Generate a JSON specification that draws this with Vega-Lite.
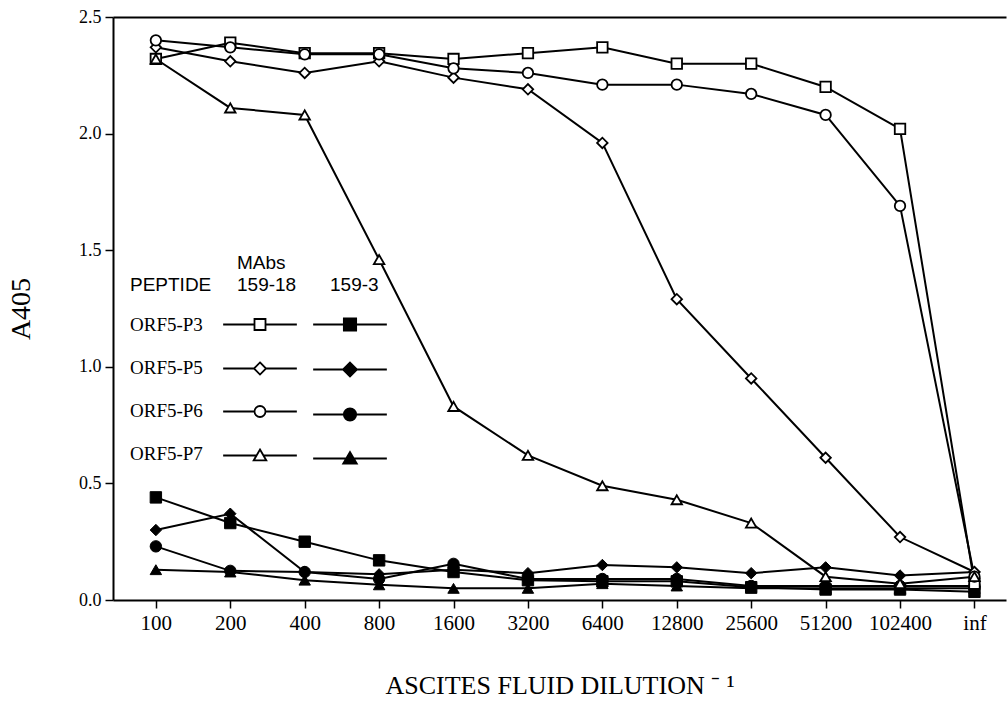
{
  "$schema": "https://vega.github.io/schema/vega-lite/v6.json",
  "width": 893,
  "height": 583,
  "autosize": "none",
  "padding": {"left": 113, "top": 17, "right": 2, "bottom": 103},
  "background": "white",
  "config": {"view": {"stroke": null}, "font": "Liberation Serif",
    "axisY": {"titleFont": "Liberation Serif", "titleFontSize": 28, "titleFontWeight": "normal", "titleColor": "black", "titlePadding": 43,
      "labelFont": "Liberation Serif", "labelFontSize": 18, "labelColor": "black", "labelPadding": 4,
      "tickSize": 8, "tickColor": "black", "tickWidth": 1.5, "domainColor": "black", "domainWidth": 2, "grid": false}},
  "data": {"values": [
    {"d":"100","pep":"ORF5-P3","mab":"159-18","a":2.32},{"d":"200","pep":"ORF5-P3","mab":"159-18","a":2.39},{"d":"400","pep":"ORF5-P3","mab":"159-18","a":2.345},{"d":"800","pep":"ORF5-P3","mab":"159-18","a":2.345},{"d":"1600","pep":"ORF5-P3","mab":"159-18","a":2.32},{"d":"3200","pep":"ORF5-P3","mab":"159-18","a":2.345},{"d":"6400","pep":"ORF5-P3","mab":"159-18","a":2.37},{"d":"12800","pep":"ORF5-P3","mab":"159-18","a":2.30},{"d":"25600","pep":"ORF5-P3","mab":"159-18","a":2.30},{"d":"51200","pep":"ORF5-P3","mab":"159-18","a":2.20},{"d":"102400","pep":"ORF5-P3","mab":"159-18","a":2.02},{"d":"inf","pep":"ORF5-P3","mab":"159-18","a":0.07},
    {"d":"100","pep":"ORF5-P5","mab":"159-18","a":2.37},{"d":"200","pep":"ORF5-P5","mab":"159-18","a":2.31},{"d":"400","pep":"ORF5-P5","mab":"159-18","a":2.26},{"d":"800","pep":"ORF5-P5","mab":"159-18","a":2.31},{"d":"1600","pep":"ORF5-P5","mab":"159-18","a":2.24},{"d":"3200","pep":"ORF5-P5","mab":"159-18","a":2.19},{"d":"6400","pep":"ORF5-P5","mab":"159-18","a":1.96},{"d":"12800","pep":"ORF5-P5","mab":"159-18","a":1.29},{"d":"25600","pep":"ORF5-P5","mab":"159-18","a":0.95},{"d":"51200","pep":"ORF5-P5","mab":"159-18","a":0.61},{"d":"102400","pep":"ORF5-P5","mab":"159-18","a":0.27},{"d":"inf","pep":"ORF5-P5","mab":"159-18","a":0.12},
    {"d":"100","pep":"ORF5-P6","mab":"159-18","a":2.40},{"d":"200","pep":"ORF5-P6","mab":"159-18","a":2.37},{"d":"400","pep":"ORF5-P6","mab":"159-18","a":2.34},{"d":"800","pep":"ORF5-P6","mab":"159-18","a":2.34},{"d":"1600","pep":"ORF5-P6","mab":"159-18","a":2.28},{"d":"3200","pep":"ORF5-P6","mab":"159-18","a":2.26},{"d":"6400","pep":"ORF5-P6","mab":"159-18","a":2.21},{"d":"12800","pep":"ORF5-P6","mab":"159-18","a":2.21},{"d":"25600","pep":"ORF5-P6","mab":"159-18","a":2.17},{"d":"51200","pep":"ORF5-P6","mab":"159-18","a":2.08},{"d":"102400","pep":"ORF5-P6","mab":"159-18","a":1.69},{"d":"inf","pep":"ORF5-P6","mab":"159-18","a":0.10},
    {"d":"100","pep":"ORF5-P7","mab":"159-18","a":2.32},{"d":"200","pep":"ORF5-P7","mab":"159-18","a":2.11},{"d":"400","pep":"ORF5-P7","mab":"159-18","a":2.08},{"d":"800","pep":"ORF5-P7","mab":"159-18","a":1.46},{"d":"1600","pep":"ORF5-P7","mab":"159-18","a":0.83},{"d":"3200","pep":"ORF5-P7","mab":"159-18","a":0.62},{"d":"6400","pep":"ORF5-P7","mab":"159-18","a":0.49},{"d":"12800","pep":"ORF5-P7","mab":"159-18","a":0.43},{"d":"25600","pep":"ORF5-P7","mab":"159-18","a":0.33},{"d":"51200","pep":"ORF5-P7","mab":"159-18","a":0.10},{"d":"102400","pep":"ORF5-P7","mab":"159-18","a":0.07},{"d":"inf","pep":"ORF5-P7","mab":"159-18","a":0.10},
    {"d":"100","pep":"ORF5-P3","mab":"159-3","a":0.44},{"d":"200","pep":"ORF5-P3","mab":"159-3","a":0.33},{"d":"400","pep":"ORF5-P3","mab":"159-3","a":0.25},{"d":"800","pep":"ORF5-P3","mab":"159-3","a":0.17},{"d":"1600","pep":"ORF5-P3","mab":"159-3","a":0.12},{"d":"3200","pep":"ORF5-P3","mab":"159-3","a":0.085},{"d":"6400","pep":"ORF5-P3","mab":"159-3","a":0.08},{"d":"12800","pep":"ORF5-P3","mab":"159-3","a":0.08},{"d":"25600","pep":"ORF5-P3","mab":"159-3","a":0.055},{"d":"51200","pep":"ORF5-P3","mab":"159-3","a":0.045},{"d":"102400","pep":"ORF5-P3","mab":"159-3","a":0.045},{"d":"inf","pep":"ORF5-P3","mab":"159-3","a":0.035},
    {"d":"100","pep":"ORF5-P5","mab":"159-3","a":0.30},{"d":"200","pep":"ORF5-P5","mab":"159-3","a":0.37},{"d":"400","pep":"ORF5-P5","mab":"159-3","a":0.12},{"d":"800","pep":"ORF5-P5","mab":"159-3","a":0.11},{"d":"1600","pep":"ORF5-P5","mab":"159-3","a":0.13},{"d":"3200","pep":"ORF5-P5","mab":"159-3","a":0.115},{"d":"6400","pep":"ORF5-P5","mab":"159-3","a":0.15},{"d":"12800","pep":"ORF5-P5","mab":"159-3","a":0.14},{"d":"25600","pep":"ORF5-P5","mab":"159-3","a":0.115},{"d":"51200","pep":"ORF5-P5","mab":"159-3","a":0.14},{"d":"102400","pep":"ORF5-P5","mab":"159-3","a":0.105},{"d":"inf","pep":"ORF5-P5","mab":"159-3","a":0.12},
    {"d":"100","pep":"ORF5-P6","mab":"159-3","a":0.23},{"d":"200","pep":"ORF5-P6","mab":"159-3","a":0.125},{"d":"400","pep":"ORF5-P6","mab":"159-3","a":0.12},{"d":"800","pep":"ORF5-P6","mab":"159-3","a":0.09},{"d":"1600","pep":"ORF5-P6","mab":"159-3","a":0.155},{"d":"3200","pep":"ORF5-P6","mab":"159-3","a":0.09},{"d":"6400","pep":"ORF5-P6","mab":"159-3","a":0.09},{"d":"12800","pep":"ORF5-P6","mab":"159-3","a":0.09},{"d":"25600","pep":"ORF5-P6","mab":"159-3","a":0.06},{"d":"51200","pep":"ORF5-P6","mab":"159-3","a":0.06},{"d":"102400","pep":"ORF5-P6","mab":"159-3","a":0.06},{"d":"inf","pep":"ORF5-P6","mab":"159-3","a":0.06},
    {"d":"100","pep":"ORF5-P7","mab":"159-3","a":0.13},{"d":"200","pep":"ORF5-P7","mab":"159-3","a":0.12},{"d":"400","pep":"ORF5-P7","mab":"159-3","a":0.085},{"d":"800","pep":"ORF5-P7","mab":"159-3","a":0.065},{"d":"1600","pep":"ORF5-P7","mab":"159-3","a":0.05},{"d":"3200","pep":"ORF5-P7","mab":"159-3","a":0.05},{"d":"6400","pep":"ORF5-P7","mab":"159-3","a":0.07},{"d":"12800","pep":"ORF5-P7","mab":"159-3","a":0.06},{"d":"25600","pep":"ORF5-P7","mab":"159-3","a":0.05},{"d":"51200","pep":"ORF5-P7","mab":"159-3","a":0.05},{"d":"102400","pep":"ORF5-P7","mab":"159-3","a":0.05},{"d":"inf","pep":"ORF5-P7","mab":"159-3","a":0.05}
  ]},
  "resolve": {"scale": {"shape": "independent", "opacity": "independent"}, "axis": {"x": "independent"}, "legend": {"opacity": "independent", "shape": "independent"}},
  "layer": [
    {
      "mark": {"type": "line", "stroke": "black", "strokeWidth": 2},
      "encoding": {
        "x": {"field": "d", "type": "ordinal",
          "scale": {"type": "point", "domain": ["100","200","400","800","1600","3200","6400","12800","25600","51200","102400","inf"], "paddingOuter": 0.427, "align": 0.576},
          "axis": {"orient": "bottom", "title": "ASCITES FLUID DILUTION ⁻ ¹", "titleFont": "Liberation Serif", "titleFontSize": 26, "titleFontWeight": "normal", "titleColor": "black", "titlePadding": 39,
            "labelFont": "Liberation Serif", "labelFontSize": 21, "labelColor": "black", "labelAngle": 0, "labelPadding": 4,
            "tickSize": 8, "tickColor": "black", "tickWidth": 1.5, "domainColor": "black", "domainWidth": 2, "grid": false}},
        "y": {"field": "a", "type": "quantitative", "scale": {"domain": [0, 2.5], "nice": false}, "axis": {"title": "A405", "values": [0, 0.5, 1, 1.5, 2, 2.5], "format": ".1f"}},
        "detail": [{"field": "pep"}, {"field": "mab"}],
        "order": {"value": null},
        "opacity": {"field": "pep", "type": "ordinal", "scale": {"range": [1, 1, 1, 1]},
          "legend": {"title": ["\u00a0", "PEPTIDE"], "orient": "none", "legendX": 17, "legendY": 237,
            "titleFont": "Liberation Sans", "titleFontSize": 19, "titleFontWeight": "normal", "titleColor": "black", "titleLineHeight": 22, "titlePadding": 20,
            "labelFont": "Liberation Serif", "labelFontSize": 19, "labelColor": "black", "labelOffset": -19,
            "symbolSize": 1, "rowPadding": 23, "symbolStrokeColor": "transparent", "symbolFillColor": "transparent", "symbolStrokeWidth": 0}}
      }
    },
    {
      "transform": [{"filter": {"field": "mab", "equal": "159-3"}}],
      "mark": {"type": "point", "filled": true, "size": 130, "fill": "black", "stroke": "black", "strokeWidth": 1, "opacity": 1},
      "encoding": {
        "x": {"field": "d", "type": "ordinal", "axis": null},
        "y": {"field": "a", "type": "quantitative", "axis": {"title": "A405", "values": [0, 0.5, 1, 1.5, 2, 2.5], "format": ".1f"}},
        "shape": {"field": "pep", "type": "nominal", "scale": {"domain": ["ORF5-P7","ORF5-P6","ORF5-P5","ORF5-P3"], "range": ["triangle-up","circle","diamond","square"]}, "legend": null}
      }
    },
    {
      "transform": [{"filter": {"field": "mab", "equal": "159-18"}}],
      "mark": {"type": "point", "filled": true, "size": 110, "fill": "white", "stroke": "black", "strokeWidth": 1.8, "opacity": 1},
      "encoding": {
        "x": {"field": "d", "type": "ordinal", "axis": {"orient": "top", "labels": false, "ticks": false, "title": null, "domainColor": "black", "domainWidth": 2, "grid": false}},
        "y": {"field": "a", "type": "quantitative", "axis": {"title": "A405", "values": [0, 0.5, 1, 1.5, 2, 2.5], "format": ".1f"}},
        "shape": {"field": "pep", "type": "nominal", "scale": {"domain": ["ORF5-P7","ORF5-P6","ORF5-P5","ORF5-P3"], "range": ["triangle-up","circle","diamond","square"]}, "legend": null}
      }
    },
    {
      "transform": [{"filter": {"field": "mab", "equal": "159-18"}}],
      "mark": {"type": "point", "filled": false, "size": 121, "stroke": "black", "strokeWidth": 1.8, "opacity": 0},
      "encoding": {
        "x": {"field": "d", "type": "ordinal", "axis": null},
        "y": {"field": "a", "type": "quantitative", "axis": {"title": "A405", "values": [0, 0.5, 1, 1.5, 2, 2.5], "format": ".1f"}},
        "shape": {"field": "pep", "type": "nominal",
          "scale": {"domain": ["ORF5-P3","ORF5-P5","ORF5-P6","ORF5-P7"],
            "range": ["M-6.7,0H-1M1,0H6.7M-1,-1H1V1H-1Z", "M-6.7,0H-1.1M1.1,0H6.7M0,-1.1L1.1,0L0,1.1L-1.1,0Z", "M-6.7,0H-1M1,0H6.7M-1,0C-1,-0.552,-0.552,-1,0,-1C0.552,-1,1,-0.552,1,0C1,0.552,0.552,1,0,1C-0.552,1,-1,0.552,-1,0Z", "M-6.7,0H-0.6M0.6,0H6.7M0,-1.1L1.15,0.9L-1.15,0.9Z"]},
          "legend": {"title": ["\u00a0\u00a0\u00a0\u00a0MAbs", "159-18"], "orient": "none", "legendX": 124, "legendY": 237,
            "titleFont": "Liberation Sans", "titleFontSize": 19, "titleFontWeight": "normal", "titleColor": "black", "titleLineHeight": 22, "titlePadding": 20,
            "labelFont": "Liberation Serif", "labelFontSize": 19, "labelOpacity": 0,
            "symbolSize": 121, "symbolOffset": 13.5, "rowPadding": 23, "symbolOpacity": 1, "symbolFillColor": "white", "symbolStrokeColor": "black", "symbolStrokeWidth": 1.8}}
      }
    },
    {
      "transform": [{"filter": {"field": "mab", "equal": "159-3"}}],
      "mark": {"type": "point", "filled": false, "size": 121, "fill": "black", "stroke": "black", "strokeWidth": 2, "opacity": 0},
      "encoding": {
        "x": {"field": "d", "type": "ordinal", "axis": null},
        "y": {"field": "a", "type": "quantitative", "axis": {"title": "A405", "values": [0, 0.5, 1, 1.5, 2, 2.5], "format": ".1f"}},
        "shape": {"field": "pep", "type": "nominal",
          "scale": {"range": ["M-6.7,0H-1M1,0H6.7M-1.1,-1.1H1.1V1.1H-1.1Z", "M-6.7,0H-1.2M1.2,0H6.7M0,-1.25L1.25,0L0,1.25L-1.25,0Z", "M-6.7,0H-1M1,0H6.7M-1.1,0C-1.1,-0.61,-0.61,-1.1,0,-1.1C0.61,-1.1,1.1,-0.61,1.1,0C1.1,0.61,0.61,1.1,0,1.1C-0.61,1.1,-1.1,0.61,-1.1,0Z", "M-6.7,0H-0.6M0.6,0H6.7M0,-1.15L1.2,0.9L-1.2,0.9Z"]},
          "legend": {"title": ["\u00a0", "159-3"], "orient": "none", "legendX": 217, "legendY": 237,
            "titleFont": "Liberation Sans", "titleFontSize": 19, "titleFontWeight": "normal", "titleColor": "black", "titleLineHeight": 22, "titlePadding": 20,
            "labelFont": "Liberation Serif", "labelFontSize": 19, "labelOpacity": 0,
            "symbolSize": 121, "symbolOffset": 10.5, "rowPadding": 23, "symbolOpacity": 1, "symbolStrokeWidth": 2}}
      }
    }
  ]
}
